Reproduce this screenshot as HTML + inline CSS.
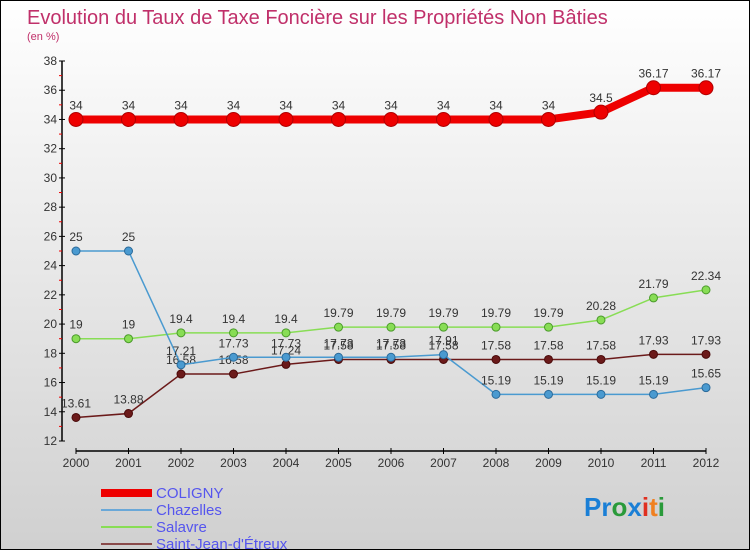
<!DOCTYPE html>
<html><head><meta charset="utf-8"><style>
body{margin:0;}
#c{width:750px;height:550px;position:relative;box-sizing:border-box;border:1px solid #000;background:linear-gradient(#fff 0%,#ececec 40%,#d0d0d0 100%);font-family:"Liberation Sans",sans-serif;overflow:hidden}
</style></head><body>
<div id="c">
<svg id="s" width="750" height="550" style="position:absolute;left:0;top:0">
<text x="26" y="23" font-size="20" fill="#c0306a">Evolution du Taux de Taxe Foncière sur les Propriétés Non Bâties</text>
<text x="26" y="39" font-size="11" fill="#c0306a">(en %)</text>
<g id="g"></g>
<text x="583" y="515" font-size="26" font-weight="bold"><tspan fill="#1a7fd6">Pr</tspan><tspan fill="#2a9a3a">o</tspan><tspan fill="#1a7fd6">x</tspan><tspan fill="#e03020">i</tspan><tspan fill="#f08020">t</tspan><tspan fill="#2a9a3a">i</tspan></text>
</svg>
</div>
<script>
const years=[2000,2001,2002,2003,2004,2005,2006,2007,2008,2009,2010,2011,2012];
const yTicks=[12,14,16,18,20,22,24,26,28,30,32,34,36,38];
const coligny=[34,34,34,34,34,34,34,34,34,34,34.5,36.17,36.17];
const chazelles=[25,25,17.21,17.73,17.73,17.73,17.73,17.91,15.19,15.19,15.19,15.19,15.65];
const salavre=[19,19,19.4,19.4,19.4,19.79,19.79,19.79,19.79,19.79,20.28,21.79,22.34];
const stjean=[13.61,13.88,16.58,16.58,17.24,17.58,17.58,17.58,17.58,17.58,17.58,17.93,17.93];
const names=["COLIGNY","Chazelles","Salavre","Saint-Jean-d'Étreux"];
const NS="http://www.w3.org/2000/svg";
const g=document.getElementById('g');
const X=i=>75+i*52.5;
const Y=v=>440-(v-12)*(380/26);
function el(t,a,txt){const e=document.createElementNS(NS,t);for(const k in a)e.setAttribute(k,a[k]);if(txt!=null)e.textContent=txt;g.appendChild(e);return e;}
let e=el('line',{x1:61,y1:60,x2:61,y2:440,stroke:'#000','stroke-width':1.5});

e=el('line',{x1:75,y1:450,x2:705,y2:450,stroke:'#000','stroke-width':1.5});

yTicks.forEach((t,i)=>{
 el('line',{x1:58,y1:Y(t),x2:64,y2:Y(t),stroke:'#000'});
 if(i<yTicks.length-1)el('line',{x1:58,y1:Y(t+1),x2:61,y2:Y(t+1),stroke:'#e00'});
 e=el('text',{x:56,y:Y(t)+4,'font-size':12,'text-anchor':'end',fill:'#333'},t);
 
});
years.forEach((yr,i)=>{
 el('line',{x1:X(i),y1:447,x2:X(i),y2:453,stroke:'#000'});
 e=el('text',{x:X(i),y:466,'font-size':12,'text-anchor':'middle',fill:'#333'},yr);
 
});
function series(d,col,w,r,name,dk){
 e=el('polyline',{points:d.map((v,i)=>X(i)+','+Y(v)).join(' '),fill:'none',stroke:col,'stroke-width':w,'stroke-linejoin':'round'});
 
 d.forEach((v,i)=>{
  e=el('circle',{cx:X(i),cy:Y(v),r:r,fill:col,stroke:dk,'stroke-width':1});
  
  e=el('text',{x:X(i),y:Y(v)-10,'font-size':12,'text-anchor':'middle',fill:'#333'},v);
  
 });
}
series(stjean,'#6b1a1a',1.5,4,'saint-jean','#4a0a0a');
series(salavre,'#88dd55',1.5,4,'salavre','#4a9a2a');
series(chazelles,'#4a9ad0',1.5,4,'chazelles','#2a6a9a');
series(coligny,'#ee0000',8,7,'coligny','#b00000');
const lc=['#ee0000','#6aa8d8','#88dd55','#8a4a4a'],lw=[8,2,2,2];
names.forEach((n,i)=>{
 const y=492+i*17;
 e=el('line',{x1:100,y1:y,x2:151,y2:y,stroke:lc[i],'stroke-width':lw[i]});
 
 e=el('text',{x:155,y:y+5,'font-size':15,fill:'#5555ee'},n);
 
});
</script>
</body></html>
